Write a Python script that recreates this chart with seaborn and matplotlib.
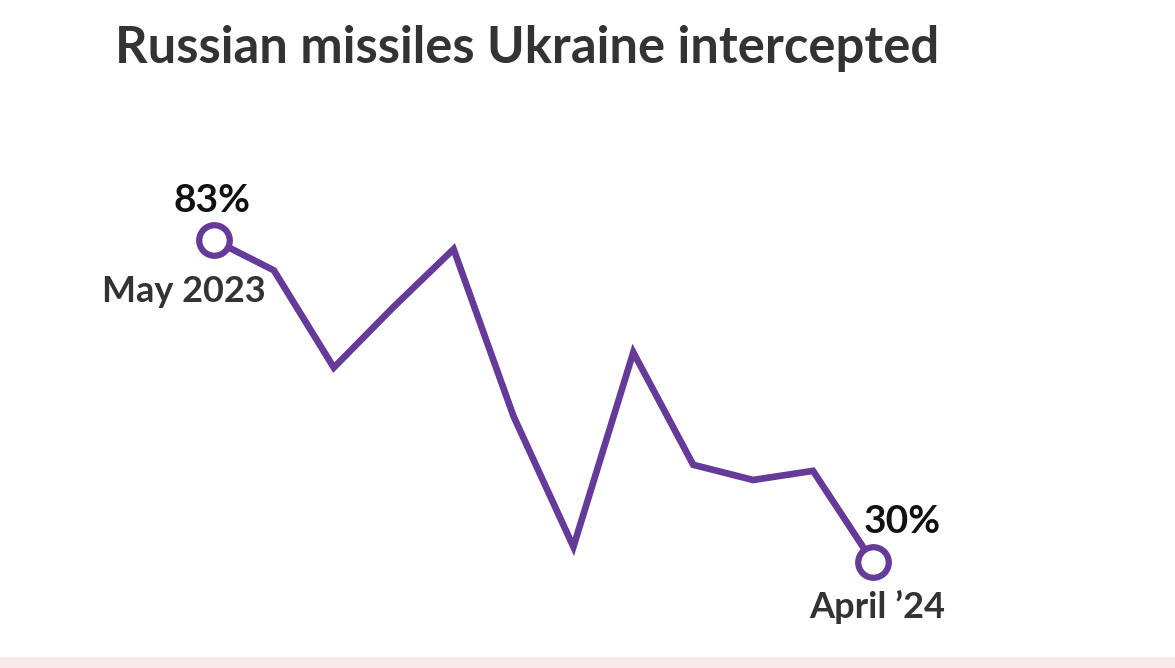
import matplotlib
matplotlib.use("Agg")
import matplotlib.pyplot as plt
import seaborn as sns
import pandas as pd
from matplotlib.patches import Rectangle

months = ["May 2023", "Jun", "Jul", "Aug", "Sep", "Oct", "Nov", "Dec",
          "Jan", "Feb", "Mar", "April \u201924"]
intercepted = [83, 78, 62, 72, 81.5, 54, 32.5, 64.5, 46, 43.5, 45, 30]
title = "Russian missiles Ukraine intercepted"

sns.set_theme(style="white")
plt.rcParams["font.family"] = ["Lato", "DejaVu Sans"]

W, H = 1175, 668
fig = plt.figure(figsize=(W / 100, H / 100), dpi=100)
fig.patch.set_facecolor("white")
ax = fig.add_axes([0, 0, 1, 1])
ax.set_facecolor("none")

df = pd.DataFrame({"idx": range(len(months)), "pct": intercepted})
purple = "#653a98"
sns.lineplot(data=df, x="idx", y="pct", ax=ax, color=purple, linewidth=4.8,
             marker="o", markevery=[0, len(months) - 1], markersize=22,
             markerfacecolor="white", markeredgecolor=purple,
             markeredgewidth=4.5, solid_joinstyle="miter", zorder=3)

# map data to pixel layout
x0_px, dx_px = 214, 59.9
y_hi, y_hi_px = 83, 240
px_per_unit = (562 - 240) / (83 - 30)
ax.set_xlim(-x0_px / dx_px, (W - x0_px) / dx_px)
ax.set_ylim(y_hi - (H - y_hi_px) / px_per_unit, y_hi + y_hi_px / px_per_unit)
ax.axis("off")

def tofig(xpx, ypx):
    return xpx / W, 1 - ypx / H

fig.text(*tofig(115, 63), title, fontsize=36.5, fontweight="bold",
         color="#333333", ha="left", va="baseline")

n = len(months)
ax.annotate(f"{intercepted[0]:.0f}%", (0, intercepted[0]), xytext=(-2, 28),
            textcoords="offset pixels", ha="center", va="baseline",
            fontsize=28, fontweight="bold", color="#111111")
ax.annotate(months[0], (0, intercepted[0]), xytext=(52, -62),
            textcoords="offset pixels", ha="right", va="baseline",
            fontsize=26, fontweight="bold", color="#333333")
ax.annotate(f"{intercepted[-1]:.0f}%", (n - 1, intercepted[-1]), xytext=(29, 29),
            textcoords="offset pixels", ha="center", va="baseline",
            fontsize=28, fontweight="bold", color="#111111")
ax.annotate(months[-1], (n - 1, intercepted[-1]), xytext=(4, -56),
            textcoords="offset pixels", ha="center", va="baseline",
            fontsize=26, fontweight="bold", color="#333333")

fig.patches.append(Rectangle((0, 0), 1, 11 / H, transform=fig.transFigure,
                             facecolor="#f9e9ea", edgecolor="none", zorder=0))

fig.savefig("out.png", dpi=100, facecolor="white")
